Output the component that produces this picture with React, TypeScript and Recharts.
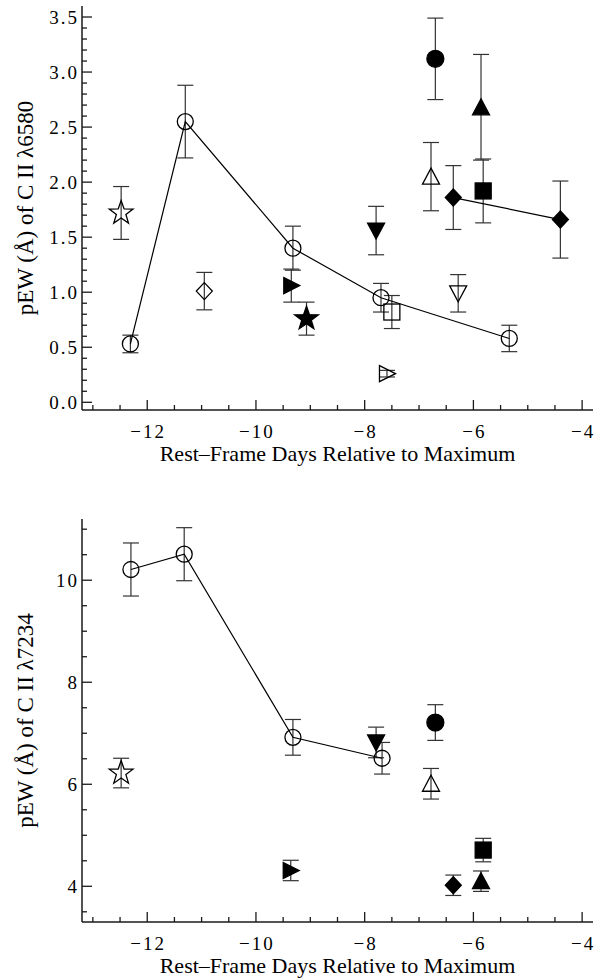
import { ErrorBar, Scatter, ScatterChart, XAxis, YAxis } from "recharts";

const FONT = '"Liberation Serif", "Times New Roman", serif';
const INK = "#1a1a1a";

// x axis (shared by both panels)
const dayDomain = [-13.2, -3.8];
const dayMajor = [-12, -10, -8, -6, -4];
const dayTicks = [-13, -12.5, -12, -11.5, -11, -10.5, -10, -9.5, -9, -8.5, -8, -7.5, -7, -6.5, -6, -5.5, -5, -4.5, -4];

// top panel: C II 6580
const topDomain = [-0.07, 3.6];
const topMajor = [0, 0.5, 1, 1.5, 2, 2.5, 3, 3.5];
const topTicks = [
  0, 0.1, 0.2, 0.3, 0.4, 0.5, 0.6, 0.7, 0.8, 0.9, 1, 1.1, 1.2, 1.3, 1.4, 1.5, 1.6, 1.7,
  1.8, 1.9, 2, 2.1, 2.2, 2.3, 2.4, 2.5, 2.6, 2.7, 2.8, 2.9, 3, 3.1, 3.2, 3.3, 3.4, 3.5
];

const a_openCircleDays = [-12.31, -11.3, -9.32, -7.7, -5.34];
const a_openCirclePew = [0.53, 2.55, 1.4, 0.95, 0.58];
const a_openCircleErr = [0.08, 0.33, 0.2, 0.13, 0.12];
const a_filledDiamondDays = [-6.37, -4.4];
const a_filledDiamondPew = [1.86, 1.66];
const a_filledDiamondErr = [0.29, 0.35];
const a_openStar = { day: [-12.48], pew: [1.72], err: [0.24] };
const a_openDiamond = { day: [-10.95], pew: [1.01], err: [0.17] };
const a_filledRight = { day: [-9.35], pew: [1.06], err: [0.15] };
const a_filledStar = { day: [-9.07], pew: [0.76], err: [0.15] };
const a_filledDown = { day: [-7.79], pew: [1.56], err: [0.22] };
const a_openSquare = { day: [-7.5], pew: [0.82], err: [0.15] };
const a_openRight = { day: [-7.59], pew: [0.26], err: [0.03] };
const a_openDown = { day: [-6.28], pew: [0.99], err: [0.17] };
const a_openUp = { day: [-6.78], pew: [2.05], err: [0.31] };
const a_filledCircle = { day: [-6.7], pew: [3.12], err: [0.37] };
const a_filledUp = { day: [-5.86], pew: [2.68], err: [0.48] };
const a_filledSquare = { day: [-5.82], pew: [1.92], err: [0.29] };

// bottom panel: C II 7234
const botDomain = [3.3, 11.2];
const botMajor = [4, 6, 8, 10];
const botTicks = [3.5, 4, 4.5, 5, 5.5, 6, 6.5, 7, 7.5, 8, 8.5, 9, 9.5, 10, 10.5, 11];

const b_openCircleDays = [-12.3, -11.32, -9.32, -7.68];
const b_openCirclePew = [10.21, 10.51, 6.92, 6.51];
const b_openCircleErr = [0.52, 0.52, 0.35, 0.31];
const b_openStar = { day: [-12.48], pew: [6.22], err: [0.29] };
const b_filledRight = { day: [-9.36], pew: [4.31], err: [0.2] };
const b_filledDown = { day: [-7.79], pew: [6.82], err: [0.3] };
const b_filledCircle = { day: [-6.7], pew: [7.21], err: [0.35] };
const b_openUp = { day: [-6.78], pew: [6.01], err: [0.3] };
const b_filledDiamond = { day: [-6.37], pew: [4.02], err: [0.2] };
const b_filledUp = { day: [-5.86], pew: [4.1], err: [0.2] };
const b_filledSquare = { day: [-5.82], pew: [4.71], err: [0.23] };

const pts = (day: number[], pew: number[], err: number[]) =>
  day.map((d, i) => ({ day: d, pew: pew[i], err: err[i] }));

const isMajor = (v: number, majors: number[]) => majors.some((m) => Math.abs(m - v) < 1e-6);

function starPath(cx: number, cy: number, R: number, r: number) {
  let d = "";
  for (let i = 0; i < 10; i++) {
    const rad = i % 2 === 0 ? R : r;
    const ang = -Math.PI / 2 + (i * Math.PI) / 5;
    d += (i === 0 ? "M" : "L") + (cx + rad * Math.cos(ang)).toFixed(2) + "," + (cy + rad * Math.sin(ang)).toFixed(2);
  }
  return d + "Z";
}

function marker(kind: string, filled: boolean) {
  return (props: any) => {
    const { cx, cy } = props;
    const fill = filled ? "#000" : "none";
    const common = { fill, stroke: "#000", strokeWidth: 1.3 };
    switch (kind) {
      case "circle":
        return <circle cx={cx} cy={cy} r={filled ? 8.5 : 8} {...common} />;
      case "square":
        return <rect x={cx - 8} y={cy - 8} width={16} height={16} {...common} />;
      case "diamond":
        return <path d={`M${cx},${cy - 8.5}L${cx + 8},${cy}L${cx},${cy + 8.5}L${cx - 8},${cy}Z`} {...common} />;
      case "up":
        return <path d={`M${cx},${cy - 8.5}L${cx + 8.5},${cy + 7.5}L${cx - 8.5},${cy + 7.5}Z`} {...common} />;
      case "down":
        return <path d={`M${cx},${cy + 8.5}L${cx + 8.5},${cy - 7.5}L${cx - 8.5},${cy - 7.5}Z`} {...common} />;
      case "right":
        return <path d={`M${cx + 8.5},${cy}L${cx - 7.5},${cy - 8}L${cx - 7.5},${cy + 8}Z`} {...common} />;
      case "star":
      default:
        return <path d={starPath(cx, cy, 12.5, 5)} {...common} />;
    }
  };
}

const TICK_FONT = 19;
const TICK_SPACING = 2;

function BottomTick({ x, y, payload, majors }: any) {
  const major = isMajor(payload.value, majors);
  return (
    <g>
      <line x1={x} x2={x} y1={y} y2={y - (major ? 10 : 5)} stroke={INK} strokeWidth={1.3} />
      {major ? (
        <text
          x={x + TICK_SPACING / 2}
          y={y + 28}
          textAnchor="middle"
          fontFamily={FONT}
          fontSize={TICK_FONT}
          letterSpacing={TICK_SPACING}
          fill="#000"
        >
          {String(payload.value).replace("-", "\u2212")}
        </text>
      ) : null}
    </g>
  );
}

function TopTick({ x, y, payload, majors }: any) {
  const major = isMajor(payload.value, majors);
  return <line x1={x} x2={x} y1={y} y2={y + (major ? 10 : 5)} stroke={INK} strokeWidth={1.3} />;
}

function LeftTick({ x, y, payload, majors, digits }: any) {
  const major = isMajor(payload.value, majors);
  return (
    <g>
      <line x1={x} x2={x + (major ? 10 : 5)} y1={y} y2={y} stroke={INK} strokeWidth={1.3} />
      {major ? (
        <text
          x={x - 5 + TICK_SPACING}
          y={y}
          dy="0.36em"
          textAnchor="end"
          fontFamily={FONT}
          fontSize={TICK_FONT}
          letterSpacing={TICK_SPACING}
          fill="#000"
        >
          {payload.value.toFixed(digits)}
        </text>
      ) : null}
    </g>
  );
}

function RightTick({ x, y, payload, majors }: any) {
  const major = isMajor(payload.value, majors);
  return <line x1={x} x2={x - (major ? 10 : 5)} y1={y} y2={y} stroke={INK} strokeWidth={1.3} />;
}

const axisLine = { stroke: INK, strokeWidth: 1.5 };

function Panel({ height, top, bottom, titleDrop, yDomain, yTicks, yMajor, digits, yTitle, series }: any) {
  return (
    <ScatterChart width={600} height={height} margin={{ top, right: 7, bottom: 0, left: 0 }}>
      <XAxis
        xAxisId="b"
        dataKey="day"
        type="number"
        domain={dayDomain}
        allowDataOverflow
        ticks={dayTicks}
        interval={0}
        height={bottom}
        tickSize={0}
        tickMargin={0}
        tickLine={false}
        axisLine={axisLine}
        tick={<BottomTick majors={dayMajor} />}
        label={(p: any) => (
          <text
            x={p.viewBox.x + p.viewBox.width / 2}
            y={p.viewBox.y + titleDrop}
            textAnchor="middle"
            fontFamily={FONT}
            fontSize={22}
            fill="#000"
          >
            Rest–Frame Days Relative to Maximum
          </text>
        )}
      />
      <XAxis
        xAxisId="t"
        orientation="top"
        type="number"
        domain={dayDomain}
        allowDataOverflow
        ticks={dayTicks}
        interval={0}
        height={0}
        tickSize={0}
        tickMargin={0}
        tickLine={false}
        axisLine={axisLine}
        tick={<TopTick majors={dayMajor} />}
      />
      <YAxis
        yAxisId="l"
        dataKey="pew"
        type="number"
        domain={yDomain}
        allowDataOverflow
        ticks={yTicks}
        interval={0}
        width={82}
        tickSize={0}
        tickMargin={0}
        tickLine={false}
        axisLine={axisLine}
        tick={<LeftTick majors={yMajor} digits={digits} />}
        label={(p: any) => {
          const cy = p.viewBox.y + p.viewBox.height / 2;
          return (
            <text
              x={33}
              y={cy}
              transform={`rotate(-90 33 ${cy})`}
              textAnchor="middle"
              fontFamily={FONT}
              fontSize={23}
              fill="#000"
            >
              {yTitle}
            </text>
          );
        }}
      />
      <YAxis
        yAxisId="r"
        orientation="right"
        type="number"
        domain={yDomain}
        allowDataOverflow
        ticks={yTicks}
        interval={0}
        width={0}
        tickSize={0}
        tickMargin={0}
        tickLine={false}
        axisLine={axisLine}
        tick={<RightTick majors={yMajor} />}
      />
      {series.map((s: any, i: number) => (
        <Scatter
          key={i}
          xAxisId="b"
          yAxisId="l"
          data={s.data}
          shape={marker(s.kind, s.filled)}
          line={s.line ? { stroke: "#000", strokeWidth: 1.2 } : false}
          lineType="joint"
          isAnimationActive={false}
        >
          <ErrorBar dataKey="err" direction="y" width={8} stroke="#333" strokeWidth={1.2} isAnimationActive={false} />
        </Scatter>
      ))}
    </ScatterChart>
  );
}

export default function App() {
  const topSeries = [
    { kind: "circle", filled: false, line: true, data: pts(a_openCircleDays, a_openCirclePew, a_openCircleErr) },
    { kind: "diamond", filled: true, line: true, data: pts(a_filledDiamondDays, a_filledDiamondPew, a_filledDiamondErr) },
    { kind: "star", filled: false, data: pts(a_openStar.day, a_openStar.pew, a_openStar.err) },
    { kind: "diamond", filled: false, data: pts(a_openDiamond.day, a_openDiamond.pew, a_openDiamond.err) },
    { kind: "right", filled: true, data: pts(a_filledRight.day, a_filledRight.pew, a_filledRight.err) },
    { kind: "star", filled: true, data: pts(a_filledStar.day, a_filledStar.pew, a_filledStar.err) },
    { kind: "down", filled: true, data: pts(a_filledDown.day, a_filledDown.pew, a_filledDown.err) },
    { kind: "square", filled: false, data: pts(a_openSquare.day, a_openSquare.pew, a_openSquare.err) },
    { kind: "right", filled: false, data: pts(a_openRight.day, a_openRight.pew, a_openRight.err) },
    { kind: "down", filled: false, data: pts(a_openDown.day, a_openDown.pew, a_openDown.err) },
    { kind: "up", filled: false, data: pts(a_openUp.day, a_openUp.pew, a_openUp.err) },
    { kind: "circle", filled: true, data: pts(a_filledCircle.day, a_filledCircle.pew, a_filledCircle.err) },
    { kind: "up", filled: true, data: pts(a_filledUp.day, a_filledUp.pew, a_filledUp.err) },
    { kind: "square", filled: true, data: pts(a_filledSquare.day, a_filledSquare.pew, a_filledSquare.err) }
  ];
  const botSeries = [
    { kind: "circle", filled: false, line: true, data: pts(b_openCircleDays, b_openCirclePew, b_openCircleErr) },
    { kind: "star", filled: false, data: pts(b_openStar.day, b_openStar.pew, b_openStar.err) },
    { kind: "right", filled: true, data: pts(b_filledRight.day, b_filledRight.pew, b_filledRight.err) },
    { kind: "down", filled: true, data: pts(b_filledDown.day, b_filledDown.pew, b_filledDown.err) },
    { kind: "circle", filled: true, data: pts(b_filledCircle.day, b_filledCircle.pew, b_filledCircle.err) },
    { kind: "up", filled: false, data: pts(b_openUp.day, b_openUp.pew, b_openUp.err) },
    { kind: "diamond", filled: true, data: pts(b_filledDiamond.day, b_filledDiamond.pew, b_filledDiamond.err) },
    { kind: "up", filled: true, data: pts(b_filledUp.day, b_filledUp.pew, b_filledUp.err) },
    { kind: "square", filled: true, data: pts(b_filledSquare.day, b_filledSquare.pew, b_filledSquare.err) }
  ];

  return (
    <div style={{ position: "absolute", left: 0, top: 0, width: 600, height: 980, background: "#fff" }}>
      <Panel
        height={480}
        top={6}
        bottom={70}
        titleDrop={51}
        yDomain={topDomain}
        yTicks={topTicks}
        yMajor={topMajor}
        digits={1}
        yTitle="pEW (Å) of C II λ6580"
        series={topSeries}
      />
      <Panel
        height={500}
        top={39}
        bottom={58}
        titleDrop={51}
        yDomain={botDomain}
        yTicks={botTicks}
        yMajor={botMajor}
        digits={0}
        yTitle="pEW (Å) of C II λ7234"
        series={botSeries}
      />
    </div>
  );
}
